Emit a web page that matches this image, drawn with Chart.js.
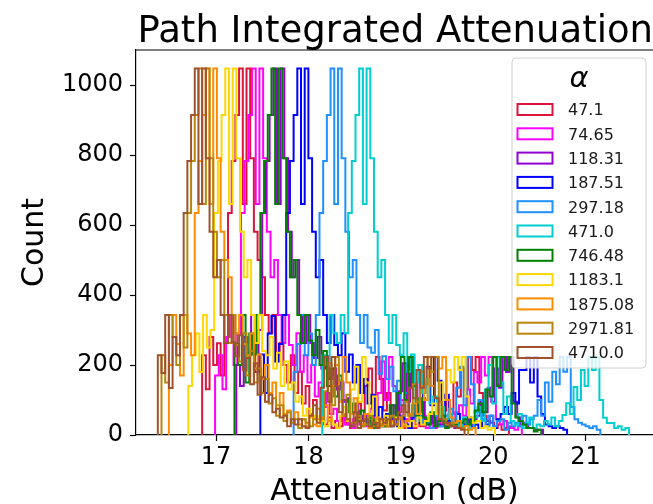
<!DOCTYPE html>
<html>
<head>
<meta charset="utf-8">
<script src="https://cdn.jsdelivr.net/npm/chart.js@4.4.1/dist/chart.umd.min.js"></script>
<style>
  html, body { margin: 0; padding: 0; background: #fff; }
  #wrap { width: 653px; height: 504px; }
</style>
</head>
<body>
<div id="wrap"><canvas id="c" width="653" height="504"></canvas></div>
<script>
// step histograms, one per alpha value, bins of 0.04 dB
const BIN = 0.04;

const alphaLabels = ['47.1', '74.65', '118.31', '187.51', '297.18', '471.0',
  '746.48', '1183.1', '1875.08', '2971.81', '4710.0'];
const seriesColors = ['#DC143C', '#FF00FF', '#9400D3', '#0000FF', '#1E90FF', '#00CED1',
  '#008000', '#FFD700', '#FF8C00', '#B8860B', '#A0522D'];
// left edge of the first bin of each series (dB)
const binStart = [16.85, 16.99, 17.22, 17.48, 17.84, 18.15, 17.20, 16.70, 16.49, 16.41, 16.37];

const counts47 = [
  228, 131, 280, 200, 262, 170, 343, 634, 783, 914,
  1047, 660, 1047, 791, 581, 500, 451, 343, 291, 343,
  228, 263, 200, 150, 228, 120, 181, 90, 140, 60,
  100, 45, 70, 30, 50, 20, 40, 25, 60, 30,
  20, 45, 90, 40, 140, 190, 80, 223, 160, 70,
  120, 45, 30, 55, 20, 40, 45, 20, 30, 25,
  45, 30, 60, 25, 45, 70, 100, 60, 150, 110,
  190, 130, 223, 186, 223, 120, 55, 40, 35, 20,
  30, 15, 20];
const counts74 = [
  170, 228, 131, 280, 343, 200, 290, 634, 783, 914,
  1047, 660, 1047, 791, 581, 451, 500, 343, 263, 343,
  257, 200, 291, 181, 228, 150, 200, 110, 150, 80,
  120, 60, 75, 40, 55, 30, 45, 20, 50, 30,
  25, 55, 75, 45, 120, 210, 100, 223, 140, 55,
  100, 45, 25, 60, 25, 35, 55, 20, 35, 20,
  40, 25, 55, 30, 35, 65, 85, 55, 130, 90,
  180, 150, 223, 170, 223, 110, 45, 30, 40, 25,
  20, 15, 25];
const counts118 = [
  200, 140, 280, 228, 343, 180, 300, 634, 783, 914,
  1047, 660, 1047, 791, 581, 451, 500, 343, 263, 343,
  263, 220, 280, 190, 225, 160, 190, 130, 150, 95,
  105, 65, 85, 40, 55, 35, 40, 30, 45, 25,
  25, 45, 85, 35, 125, 205, 95, 223, 145, 65,
  105, 35, 35, 55, 25, 30, 45, 25, 35, 20,
  35, 30, 45, 30, 45, 55, 95, 65, 135, 95,
  190, 135, 223, 180, 223, 95, 50, 30, 35, 20,
  20, 15, 15];
const counts187 = [
  230, 120, 290, 340, 210, 260, 343, 634, 783, 914,
  1047, 660, 1047, 791, 581, 451, 500, 343, 263, 343,
  257, 228, 291, 181, 230, 150, 200, 120, 160, 90,
  115, 55, 80, 50, 60, 25, 45, 25, 55, 30,
  20, 50, 85, 35, 135, 195, 85, 223, 155, 60,
  115, 40, 35, 60, 20, 30, 50, 25, 30, 20,
  45, 30, 55, 20, 45, 60, 80, 60, 120, 90,
  186, 186, 223, 150, 223, 110, 60, 30, 25, 20,
  25, 20, 15];
const counts297 = [
  180, 260, 343, 228, 290, 200, 343, 634, 783, 914,
  1047, 660, 1047, 791, 581, 451, 500, 343, 263, 343,
  250, 235, 300, 175, 225, 160, 195, 125, 155, 85,
  120, 55, 85, 40, 65, 35, 35, 20, 55, 25,
  25, 55, 75, 45, 135, 195, 85, 223, 145, 65,
  100, 45, 25, 55, 25, 40, 45, 15, 35, 25,
  35, 25, 55, 30, 45, 55, 100, 55, 150, 95,
  181, 145, 223, 181, 223, 80, 45, 35, 30, 25,
  20, 25, 15];
const counts471 = [
  228, 200, 343, 291, 263, 343, 291, 634, 783, 914,
  1047, 660, 1047, 791, 581, 451, 500, 343, 263, 343,
  257, 228, 291, 181, 230, 150, 200, 120, 160, 90,
  110, 60, 80, 45, 60, 30, 40, 25, 50, 30,
  20, 50, 80, 40, 130, 200, 90, 223, 150, 60,
  110, 40, 30, 60, 20, 35, 50, 20, 30, 25,
  40, 30, 50, 25, 40, 57, 91, 60, 137, 100,
  186, 140, 223, 186, 223, 100, 49, 34, 34, 20,
  25, 15, 20];
const counts746 = [
  260, 200, 343, 150, 290, 230, 343, 634, 783, 914,
  1047, 660, 1047, 791, 581, 451, 500, 343, 263, 343,
  270, 228, 300, 200, 240, 140, 190, 110, 170, 100,
  100, 65, 90, 40, 70, 30, 50, 20, 45, 35,
  25, 45, 85, 50, 120, 223, 100, 223, 140, 55,
  105, 50, 30, 65, 25, 40, 55, 20, 25, 30,
  40, 35, 45, 30, 40, 70, 90, 65, 130, 110,
  223, 140, 223, 186, 223, 90, 50, 40, 30, 20,
  20, 10, 15];
const counts1183 = [
  140, 228, 290, 180, 343, 250, 300, 634, 783, 914,
  1047, 660, 1047, 791, 581, 451, 500, 343, 263, 343,
  240, 228, 280, 190, 235, 140, 210, 130, 150, 95,
  110, 55, 75, 50, 55, 35, 40, 25, 45, 30,
  20, 55, 80, 40, 130, 195, 95, 223, 150, 60,
  110, 40, 35, 55, 25, 35, 50, 20, 30, 25,
  40, 25, 50, 30, 40, 60, 90, 60, 150, 100,
  186, 150, 223, 186, 223, 110, 50, 35, 40, 20,
  25, 15, 20];
const counts1875 = [
  200, 343, 260, 170, 343, 290, 228, 634, 783, 914,
  1047, 660, 1047, 791, 581, 500, 451, 343, 290, 343,
  260, 228, 290, 190, 230, 160, 200, 120, 150, 85,
  120, 60, 70, 45, 65, 30, 45, 25, 55, 30,
  25, 50, 85, 40, 140, 200, 95, 223, 150, 60,
  105, 45, 30, 60, 20, 35, 50, 25, 30, 25,
  40, 30, 50, 25, 40, 60, 90, 60, 140, 100,
  190, 140, 223, 190, 223, 100, 50, 35, 40, 20,
  25, 15, 20];
const counts2971 = [
  228, 150, 343, 280, 200, 343, 250, 634, 783, 914,
  1047, 660, 1047, 791, 581, 451, 500, 343, 263, 343,
  257, 210, 291, 170, 240, 150, 190, 120, 160, 90,
  105, 55, 85, 40, 65, 35, 45, 20, 45, 35,
  25, 45, 75, 45, 125, 205, 85, 223, 155, 55,
  115, 35, 35, 55, 25, 30, 55, 25, 25, 30,
  45, 25, 55, 30, 45, 55, 95, 55, 145, 95,
  181, 145, 223, 181, 223, 95, 45, 30, 35, 25,
  20, 20, 15];
const counts4710 = [
  228, 177, 343, 134, 280, 228, 343, 634, 783, 914,
  1047, 660, 1047, 791, 581, 451, 500, 343, 263, 343,
  265, 225, 285, 185, 220, 145, 205, 115, 165, 95,
  115, 65, 75, 50, 55, 25, 45, 30, 45, 25,
  20, 55, 85, 35, 135, 223, 95, 223, 140, 65,
  100, 45, 25, 65, 20, 40, 45, 25, 35, 20,
  45, 35, 45, 25, 45, 65, 85, 65, 135, 105,
  186, 135, 223, 190, 223, 105, 45, 35, 35, 25,
  25, 20, 15];

const seriesCounts = [counts47, counts74, counts118, counts187, counts297, counts471,
  counts746, counts1183, counts1875, counts2971, counts4710];

const xTicks = [17, 18, 19, 20, 21];
const yTicks = [0, 200, 400, 600, 800, 1000];

const FONT = '"DejaVu Sans", "Liberation Sans", sans-serif';

// outline of a histogram, like matplotlib histtype='step'
function stepOutline(start, counts) {
  const pts = [{ x: start, y: 0 }];
  counts.forEach((c, i) => pts.push({ x: start + i * BIN, y: c }));
  pts.push({ x: start + counts.length * BIN, y: 0 });
  return pts;
}

const datasets = alphaLabels.map((label, i) => ({
  label,
  data: stepOutline(binStart[i], seriesCounts[i]),
  borderColor: seriesColors[i],
  backgroundColor: seriesColors[i],
  borderWidth: 2,
  stepped: 'before',
  fill: false,
  pointRadius: 0,
  order: alphaLabels.length - i
}));

// legend box drawn inside the plot, top right, plus the top spine
const alphaLegend = {
  id: 'alphaLegend',
  afterDatasetsDraw(chart) {
    const { ctx, chartArea } = chart;
    ctx.save();
    ctx.strokeStyle = '#000';
    ctx.lineWidth = 1.2;
    ctx.beginPath();
    ctx.moveTo(chartArea.left, chartArea.top);
    ctx.lineTo(chartArea.right, chartArea.top);
    ctx.stroke();

    const bx = 512, by = 58, bw = 134, bh = 310;
    ctx.beginPath();
    ctx.roundRect(bx, by, bw, bh, 4);
    ctx.fillStyle = 'rgba(255,255,255,0.8)';
    ctx.fill();
    ctx.strokeStyle = '#d0d0d0';
    ctx.lineWidth = 1;
    ctx.stroke();

    ctx.fillStyle = '#000';
    ctx.font = 'italic 29px ' + FONT;
    ctx.textAlign = 'center';
    ctx.textBaseline = 'alphabetic';
    ctx.fillText('α', bx + bw / 2, 87);

    ctx.font = '16px ' + FONT;
    ctx.textAlign = 'left';
    alphaLabels.forEach((label, i) => {
      const cy = 109.5 + i * 24.3;
      ctx.strokeStyle = seriesColors[i];
      ctx.lineWidth = 2;
      ctx.strokeRect(517.5, cy - 5.5, 35, 11);
      ctx.fillStyle = '#1a1a1a';
      ctx.fillText(label, 568, cy + 5.8);
    });
    ctx.restore();
  }
};

new Chart(document.getElementById('c'), {
  type: 'line',
  data: { datasets },
  options: {
    responsive: false,
    animation: false,
    devicePixelRatio: 1,
    layout: { padding: 0 },
    plugins: {
      legend: { display: false },
      tooltip: { enabled: false },
      title: {
        display: true,
        text: 'Path Integrated Attenuation',
        align: 'end',
        color: '#000',
        font: { family: FONT, size: 37, weight: 'normal', lineHeight: 0.9 },
        padding: { top: 16, bottom: 0.7 }
      }
    },
    scales: {
      x: {
        type: 'linear',
        min: 16.134,
        max: 21.73,
        afterBuildTicks: (s) => { s.ticks = xTicks.map(v => ({ value: v })); },
        afterFit: (s) => { s.height = 69; },
        ticks: {
          color: '#000',
          font: { family: FONT, size: 24 },
          padding: 2,
          maxRotation: 0,
          autoSkip: false,
          callback: (v) => String(v)
        },
        grid: { display: true, drawOnChartArea: false, drawTicks: true, tickLength: 6, tickColor: '#000', tickWidth: 1.2 },
        border: { display: true, color: '#000', width: 1.2 },
        title: {
          display: true,
          text: 'Attenuation (dB)',
          color: '#000',
          font: { family: FONT, size: 30, lineHeight: 0.8 },
          padding: { top: 0, bottom: 0 }
        }
      },
      y: {
        min: 0,
        max: 1100,
        afterBuildTicks: (s) => { s.ticks = yTicks.map(v => ({ value: v })); },
        afterFit: (s) => { s.width = 136; },
        ticks: {
          color: '#000',
          font: { family: FONT, size: 24 },
          padding: 7,
          callback: (v) => String(v)
        },
        grid: { display: true, drawOnChartArea: false, drawTicks: true, tickLength: 6, tickColor: '#000', tickWidth: 1.2 },
        border: { display: true, color: '#000', width: 1.2 },
        title: {
          display: true,
          text: 'Count',
          color: '#000',
          font: { family: FONT, size: 30, lineHeight: 1 },
          padding: { top: 20, bottom: 0 }
        }
      }
    }
  },
  plugins: [alphaLegend]
});
</script>
</body>
</html>
